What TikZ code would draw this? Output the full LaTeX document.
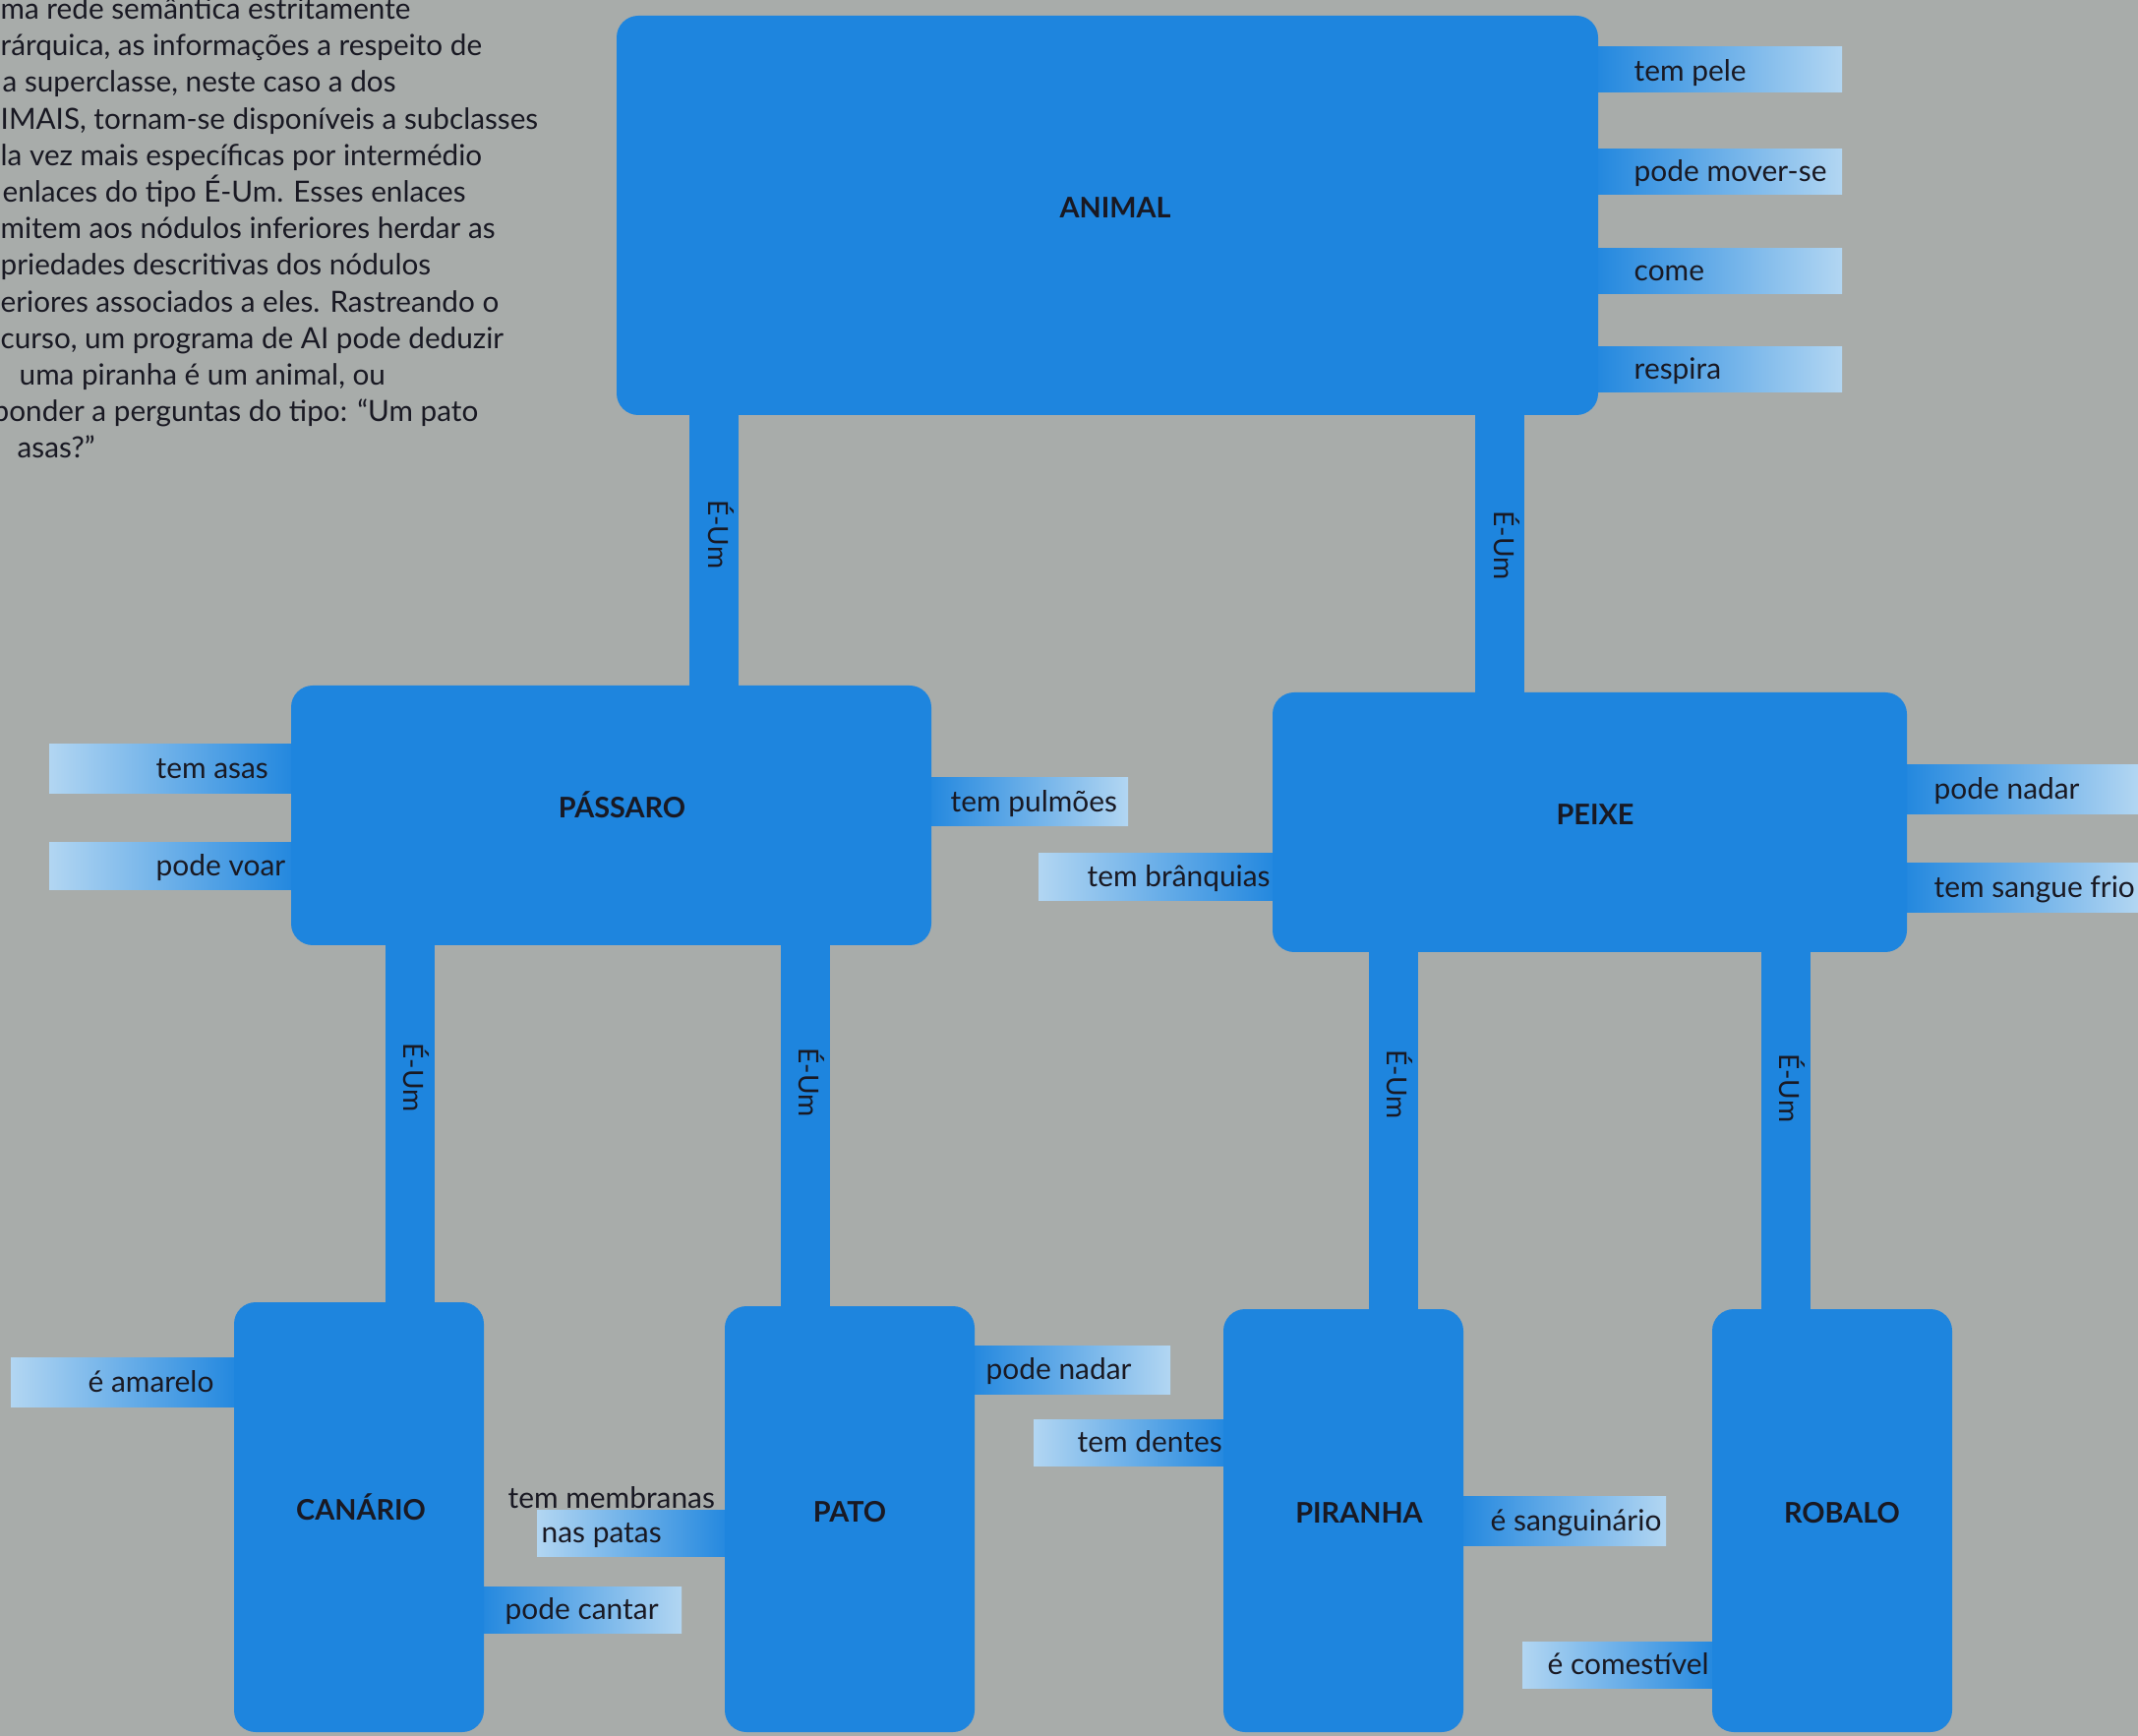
\documentclass[tikz,border=0pt]{standalone}
\usepackage{fontspec}
\setmainfont{Lato}
\definecolor{paper}{RGB}{168,172,170}
\definecolor{boxblue}{RGB}{30,133,222}
\definecolor{paleblue}{RGB}{178,214,242}
\definecolor{ink}{RGB}{25,25,35}
\tikzset{
  classbox/.style={fill=boxblue, rounded corners=0.22cm, inner sep=0pt, text=ink,
    text height=0.25cm, text depth=0.2cm, font=\fontsize{8.2}{10}\selectfont\bfseries},
  isa/.style={draw=boxblue, line width=0.5cm, shorten <=-0.05cm, shorten >=-0.05cm},
  eum/.style={rotate=-90, inner sep=0pt, text=ink, text height=0.26cm, text depth=0.14cm,
    font=\fontsize{8}{9}\selectfont},
  fadeR/.style={left color=boxblue, middle color=boxblue, right color=paleblue},
  fadeL/.style={left color=paleblue, middle color=boxblue, right color=boxblue},
  prop/.style={anchor=base west, inner sep=0pt, text=ink, font=\fontsize{8.5}{10}\selectfont},
  para/.style={align=left, inner sep=0pt, text=ink, font=\fontsize{8.45}{10.58}\selectfont}
}
\begin{document}
\begin{tikzpicture}[y=-1cm]
\useasboundingbox (0,0) rectangle (21.74,17.65);
\fill[paper] (0,0) rectangle (21.74,17.65);

% texto ao lado
\node[para, anchor=north west] (intro) at (0,-0.03) {ma rede semântica estritamente\\
rárquica, as informações a respeito de\\
\hspace*{0.02cm}a superclasse, neste caso a dos\\
IMAIS, tornam-se disponíveis a subclasses\\
la vez mais específicas por intermédio\\
\hspace*{0.02cm}enlaces do tipo É-Um. Esses enlaces\\
mitem aos nódulos inferiores herdar as\\
priedades descritivas dos nódulos\\
eriores associados a eles. Rastreando o\\
curso, um programa de AI pode deduzir\\
\hspace*{0.19cm}uma piranha é um animal, ou\\
\hspace*{-0.08cm}ponder a perguntas do tipo: “Um pato\\
\hspace*{0.17cm}asas?”};

% faixas das propriedades
\foreach \y in {0.48,1.52,2.53,3.53}
  \shade[fadeR] (16.15,\y) rectangle (18.73,\y+0.46);
\shade[fadeR] (9.37,7.91) rectangle (11.47,8.40);
\shade[fadeR] (19.29,7.78) rectangle (21.74,8.28);
\shade[fadeR] (19.29,8.78) rectangle (21.74,9.28);
\shade[fadeR] (4.82,16.13) rectangle (6.93,16.60);
\shade[fadeR] (9.81,13.68) rectangle (11.90,14.17);
\shade[fadeR] (14.78,15.21) rectangle (16.94,15.71);
\shade[fadeL] (0.50,7.57) rectangle (3.06,8.07);
\shade[fadeL] (0.50,8.57) rectangle (3.06,9.05);
\shade[fadeL] (10.56,8.68) rectangle (13.04,9.16);
\shade[fadeL] (0.11,13.80) rectangle (2.48,14.30);
\shade[fadeL] (5.46,15.35) rectangle (7.47,15.82);
\shade[fadeL] (10.51,14.43) rectangle (12.54,14.90);
\shade[fadeL] (15.48,16.69) rectangle (17.52,17.16);

% classes
\node[classbox, minimum width=9.98cm, minimum height=4.06cm] (animal) at (11.26,2.19) {\hspace*{0.16cm}ANIMAL};
\node[classbox, minimum width=6.51cm, minimum height=2.64cm] (passaro) at (6.215,8.29) {\hspace*{0.22cm}PÁSSARO};
\node[classbox, minimum width=6.45cm, minimum height=2.64cm] (peixe) at (16.165,8.36) {\hspace*{0.11cm}PEIXE};
\node[classbox, minimum width=2.54cm, minimum height=4.37cm] (canario) at (3.65,15.425) {\hspace*{0.04cm}CANÁRIO};
\node[classbox, minimum width=2.54cm, minimum height=4.33cm] (pato) at (8.64,15.445) {PATO};
\node[classbox, minimum width=2.44cm, minimum height=4.30cm] (piranha) at (13.66,15.46) {\hspace*{0.32cm}PIRANHA};
\node[classbox, minimum width=2.44cm, minimum height=4.30cm] (robalo) at (18.63,15.46) {\hspace*{0.2cm}ROBALO};

% enlaces É-Um
\draw[isa] (7.26,0 |- animal.south) -- (7.26,0 |- passaro.north) node[eum, pos=0.44] {É-Um};
\draw[isa] (15.25,0 |- animal.south) -- (15.25,0 |- peixe.north) node[eum, pos=0.47] {É-Um};
\draw[isa] (4.165,0 |- passaro.south) -- (4.165,0 |- canario.north) node[eum, pos=0.37] {É-Um};
\draw[isa] (8.185,0 |- passaro.south) -- (8.185,0 |- pato.north) node[eum, pos=0.38] {É-Um};
\draw[isa] (14.165,0 |- peixe.south) -- (14.165,0 |- piranha.north) node[eum, pos=0.37] {É-Um};
\draw[isa] (18.155,0 |- peixe.south) -- (18.155,0 |- robalo.north) node[eum, pos=0.38] {É-Um};

% propriedades
\node[prop] (pele) at (16.61,0.825) {tem pele};
\node[prop] (mover) at (16.61,1.85) {pode mover-se};
\node[prop] (come) at (16.61,2.855) {come};
\node[prop] (respira) at (16.61,3.855) {respira};
\node[prop] (asas) at (1.58,7.92) {tem asas};
\node[prop] (voar) at (1.58,8.91) {pode voar};
\node[prop] (pulmoes) at (9.66,8.255) {tem pulmões};
\node[prop] (branquias) at (11.05,9.02) {tem brânquias};
\node[prop] (nadarpeixe) at (19.66,8.13) {pode nadar};
\node[prop] (sangue) at (19.66,9.13) {tem sangue frio};
\node[prop] (amarelo) at (0.89,14.15) {é amarelo};
\node[prop] (cantar) at (5.13,16.465) {pode cantar};
\node[prop] (membranas) at (5.16,15.33) {tem membranas};
\node[prop] (patas) at (5.50,15.685) {nas patas};
\node[prop] (nadarpato) at (10.02,14.025) {pode nadar};
\node[prop] (dentes) at (10.95,14.765) {tem dentes};
\node[prop] (sanguinario) at (15.15,15.56) {é sanguinário};
\node[prop] (comestivel) at (15.73,17.025) {é comestível};
\end{tikzpicture}
\end{document}
